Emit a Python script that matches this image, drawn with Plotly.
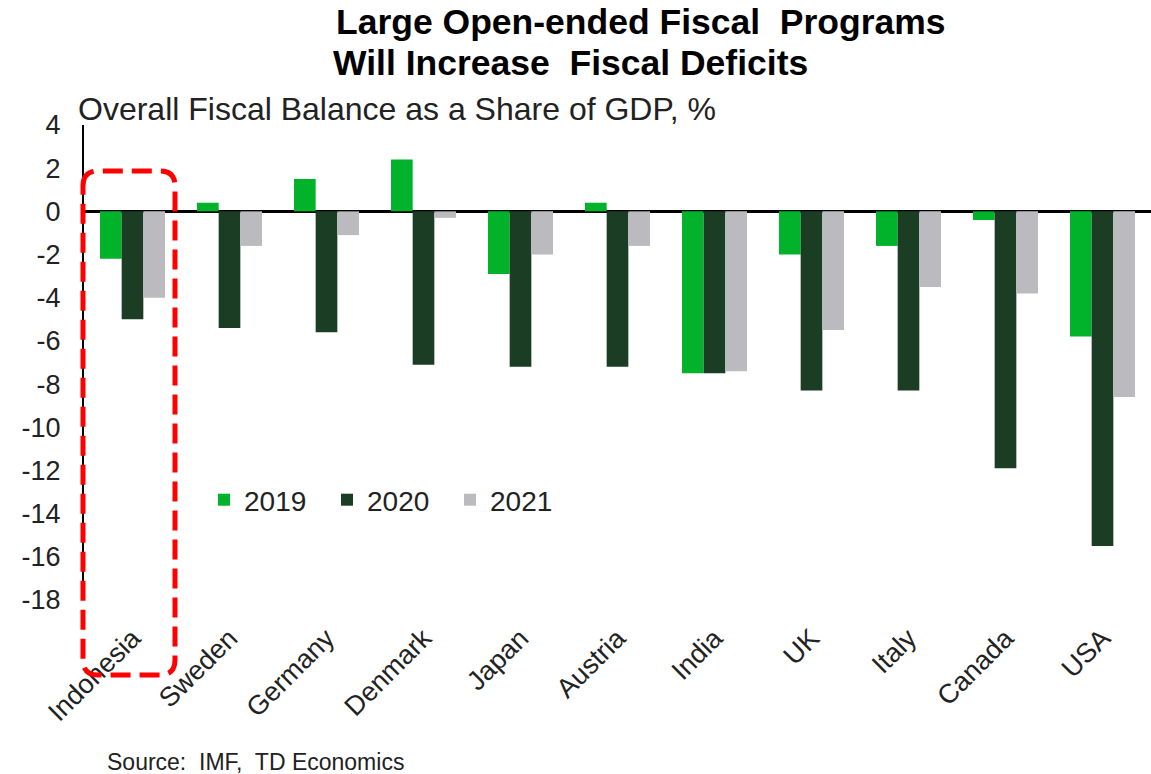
import plotly.graph_objects as go

# Overall fiscal balance, % of GDP
countries = ["Indonesia", "Sweden", "Germany", "Denmark", "Japan", "Austria",
             "India", "UK", "Italy", "Canada", "USA"]
bal_2019 = [-2.2, 0.4, 1.5, 2.4, -2.9, 0.4, -7.5, -2.0, -1.6, -0.4, -5.8]
bal_2020 = [-5.0, -5.4, -5.6, -7.1, -7.2, -7.2, -7.5, -8.3, -8.3, -11.9, -15.5]
bal_2021 = [-4.0, -1.6, -1.1, -0.3, -2.0, -1.6, -7.4, -5.5, -3.5, -3.8, -8.6]

# y-axis ticks, written with a plain hyphen for negatives
y_ticks = [4, 2, 0, -2, -4, -6, -8, -10, -12, -14, -16, -18]
y_tick_text = ["4", "2", "0", "-2", "-4", "-6", "-8", "-10", "-12", "-14", "-16", "-18"]

series = [
    ("2019", bal_2019, "#00B32A"),
    ("2020", bal_2020, "#1A3D23"),
    ("2021", bal_2021, "#BBBBBF"),
]

FONT = "Liberation Sans, Arial, sans-serif"
W, H = 1151, 774
L, R, T, B = 84, 0, 125, 174
pw, ph = W - L - R, H - T - B


def px_x(x):
    return (x - L) / pw


def px_y(y):
    return (H - B - y) / ph


fig = go.Figure()
for name, vals, color in series:
    fig.add_trace(go.Bar(
        x=countries, y=vals, name=name,
        marker=dict(color=color, line=dict(width=0)),
    ))

fig.update_layout(
    width=W, height=H,
    margin=dict(l=L, r=R, t=T, b=B),
    paper_bgcolor="white", plot_bgcolor="white",
    barmode="group", bargap=0.33, bargroupgap=0,
    font=dict(family=FONT, color="#222222"),
    showlegend=True,
    legend=dict(
        orientation="h", x=px_x(204), y=px_y(500),
        xanchor="left", yanchor="middle",
        font=dict(size=28, color="#222222"),
        bgcolor="rgba(0,0,0,0)", entrywidth=78, entrywidthmode="pixels",
        traceorder="normal",
    ),
    xaxis=dict(
        showline=False, showgrid=False, ticks="", tickangle=-45,
        tickfont=dict(size=27, color="#222222"),
        ticklabelstandoff=16,
        range=[-0.5, 10.5],
    ),
    yaxis=dict(
        range=[-18, 4], tickvals=y_ticks, ticktext=y_tick_text,
        showgrid=False, ticks="",
        showline=True, linecolor="black", linewidth=2,
        zeroline=True, zerolinecolor="black", zerolinewidth=3,
        tickfont=dict(size=27, color="#222222"),
        ticklabelstandoff=16,
        layer="above traces",
    ),
)

# Title lines and subtitle
fig.add_annotation(text="<b>Large Open-ended Fiscal\u00a0 Programs</b>",
                   xref="paper", yref="paper", x=px_x(334), y=px_y(22),
                   xanchor="left", yanchor="middle", showarrow=False,
                   font=dict(size=35.5, color="#000000", family=FONT))
fig.add_annotation(text="<b>Will Increase\u00a0 Fiscal Deficits</b>",
                   xref="paper", yref="paper", x=px_x(331), y=px_y(63),
                   xanchor="left", yanchor="middle", showarrow=False,
                   font=dict(size=35.5, color="#000000", family=FONT))
fig.add_annotation(text="Overall Fiscal Balance as a Share of GDP, %",
                   xref="paper", yref="paper", x=px_x(76), y=px_y(109),
                   xanchor="left", yanchor="middle", showarrow=False,
                   font=dict(size=32, color="#222222", family=FONT))
fig.add_annotation(text="Source:\u00a0 IMF,\u00a0 TD Economics",
                   xref="paper", yref="paper", x=px_x(105), y=px_y(762),
                   xanchor="left", yanchor="middle", showarrow=False,
                   font=dict(size=23, color="#222222", family=FONT))

# Dashed rounded box highlighting Indonesia
x0, x1, y0, y1, r = px_x(83), px_x(175), px_y(675), px_y(171), 15
rx, ry = r / pw, r / ph
path = (f"M{x0},{y1 - ry} Q{x0},{y1} {x0 + rx},{y1} "
        f"L{x1 - rx},{y1} Q{x1},{y1} {x1},{y1 - ry} "
        f"L{x1},{y0 + ry} Q{x1},{y0} {x1 - rx},{y0} "
        f"L{x0 + rx},{y0} Q{x0},{y0} {x0},{y0 + ry} Z")
fig.add_shape(type="path", path=path, xref="paper", yref="paper",
              line=dict(color="#FF0000", width=5, dash="20px,9px"),
              fillcolor="rgba(0,0,0,0)", layer="above")

fig.write_html("out.html")
